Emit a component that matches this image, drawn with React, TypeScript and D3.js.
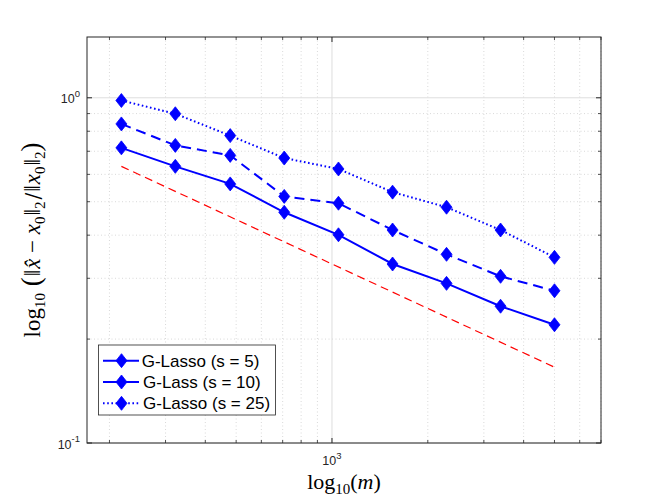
import React from "react";
import * as d3 from "d3";

const mValues = [218, 322, 479, 708, 1048, 1550, 2290, 3385, 5000];
const errS5 = [0.716, 0.633, 0.563, 0.466, 0.401, 0.330, 0.290, 0.249, 0.220];
const errS10 = [0.840, 0.728, 0.681, 0.518, 0.495, 0.414, 0.352, 0.304, 0.276];
const errS25 = [0.982, 0.899, 0.777, 0.669, 0.622, 0.533, 0.482, 0.414, 0.345];
const refM = [218, 5000];
const refErr = [0.633, 0.1658];
const xMajor = [1000];
const xMinor = [200, 300, 400, 500, 600, 700, 800, 900, 2000, 3000, 4000, 5000, 6000, 7000];
const yMajor = [0.1, 1];
const yMinor = [0.2, 0.3, 0.4, 0.5, 0.6, 0.7, 0.8, 0.9];
const legendLabels = ["G-Lasso (s = 5)", "G-Lass (s = 10)", "G-Lasso (s = 25)"];

const W = 664, H = 498;
const L = 87, R = 601, T = 37, B = 443;
const axisColor = "#262626";
const blue = "#0000ff";

const series = [
  { values: errS5, dash: "none" },
  { values: errS10, dash: "10 6" },
  { values: errS25, dash: "1.6 2.6" },
];

function Diamond({ x, y }: { x: number; y: number }) {
  const w = 5.5, h = 7;
  return (
    <path
      d={`M${x},${y - h}L${x + w},${y}L${x},${y + h}L${x - w},${y}Z`}
      fill={blue}
      stroke={blue}
      strokeWidth={0.8}
    />
  );
}

export default function App() {
  const x = d3.scaleLog().domain([170, 7000]).range([L, R]);
  const y = d3.scaleLog().domain([0.1, 1.5]).range([B, T]);
  const line = d3
    .line<[number, number]>()
    .x((d) => x(d[0]))
    .y((d) => y(d[1]));

  const serif = "'Liberation Serif', 'DejaVu Serif', serif";
  const sans = "'Liberation Sans', Arial, sans-serif";

  return (
    <svg
      width={W}
      height={H}
      style={{ position: "absolute", left: 0, top: 0, background: "#fff" }}
    >
      <rect x={0} y={0} width={W} height={H} fill="#fff" />
      {/* minor grid */}
      {xMinor.map((v) => (
        <line key={"gx" + v} x1={x(v)} x2={x(v)} y1={T} y2={B} stroke="#c9c9c9" strokeWidth={0.7} strokeDasharray="1 2.5" />
      ))}
      {yMinor.map((v) => (
        <line key={"gy" + v} x1={L} x2={R} y1={y(v)} y2={y(v)} stroke="#c9c9c9" strokeWidth={0.7} strokeDasharray="1 2.5" />
      ))}
      {/* major grid */}
      {xMajor.map((v) => (
        <line key={"Gx" + v} x1={x(v)} x2={x(v)} y1={T} y2={B} stroke="#dedede" strokeWidth={1} />
      ))}
      {yMajor.map((v) => (
        <line key={"Gy" + v} x1={L} x2={R} y1={y(v)} y2={y(v)} stroke="#dedede" strokeWidth={1} />
      ))}

      {/* reference line */}
      <path
        d={line(refM.map((m, i) => [m, refErr[i]]) as [number, number][]) || ""}
        fill="none"
        stroke="#ff0000"
        strokeWidth={1.2}
        strokeDasharray="8 5"
      />

      {/* series */}
      {series.map((s, si) => (
        <g key={"s" + si}>
          <path
            d={line(mValues.map((m, i) => [m, s.values[i]]) as [number, number][]) || ""}
            fill="none"
            stroke={blue}
            strokeWidth={2}
            strokeDasharray={s.dash}
          />
          {mValues.map((m, i) => (
            <Diamond key={i} x={x(m)} y={y(s.values[i])} />
          ))}
        </g>
      ))}

      {/* axes box */}
      <rect x={L} y={T} width={R - L} height={B - T} fill="none" stroke={axisColor} strokeWidth={1} />
      {/* ticks */}
      {xMajor.map((v) => (
        <g key={"tx" + v}>
          <line x1={x(v)} x2={x(v)} y1={B} y2={B - 5} stroke={axisColor} />
          <line x1={x(v)} x2={x(v)} y1={T} y2={T + 5} stroke={axisColor} />
        </g>
      ))}
      {xMinor.map((v) => (
        <g key={"tmx" + v}>
          <line x1={x(v)} x2={x(v)} y1={B} y2={B - 3} stroke={axisColor} strokeWidth={0.8} />
          <line x1={x(v)} x2={x(v)} y1={T} y2={T + 3} stroke={axisColor} strokeWidth={0.8} />
        </g>
      ))}
      {yMajor.map((v) => (
        <g key={"ty" + v}>
          <line x1={L} x2={L + 5} y1={y(v)} y2={y(v)} stroke={axisColor} />
          <line x1={R} x2={R - 5} y1={y(v)} y2={y(v)} stroke={axisColor} />
        </g>
      ))}
      {yMinor.map((v) => (
        <g key={"tmy" + v}>
          <line x1={L} x2={L + 3} y1={y(v)} y2={y(v)} stroke={axisColor} strokeWidth={0.8} />
          <line x1={R} x2={R - 3} y1={y(v)} y2={y(v)} stroke={axisColor} strokeWidth={0.8} />
        </g>
      ))}

      {/* tick labels */}
      {xMajor.map((v) => (
        <text key={"lx" + v} x={x(v)} y={465} fontFamily={sans} fontSize={12.5} fill={axisColor} textAnchor="middle">
          10<tspan dy={-6.5} fontSize={9.5}>{Math.round(Math.log10(v))}</tspan>
        </text>
      ))}
      {yMajor.map((v) => (
        <text key={"ly" + v} x={80} y={y(v) + 5.7} fontFamily={sans} fontSize={12.5} fill={axisColor} textAnchor="end">
          10<tspan dy={-6.5} fontSize={9.5}>{Math.round(Math.log10(v))}</tspan>
        </text>
      ))}

      {/* x label */}
      <text x={344} y={489} fontFamily={serif} fontSize={22} fill="#000" textAnchor="middle">
        log<tspan dy={5} fontSize={15}>10</tspan>
        <tspan dy={-5}>(</tspan>
        <tspan fontStyle="italic">m</tspan>)
      </text>

      {/* y label */}
      <g transform="translate(40,240) rotate(-90)">
        <text x={0} y={0} fontFamily={serif} fontSize={23} fill="#000" textAnchor="middle">
          log<tspan dy={5} fontSize={15}>10</tspan>
          <tspan dy={-5} fontSize={27}>{" ("}</tspan>
          <tspan dx={1}>‖</tspan>
          <tspan dx={1} fontStyle="italic">x̂</tspan>
          <tspan>{" − "}</tspan>
          <tspan fontStyle="italic">x</tspan>
          <tspan dy={5} fontSize={15}>0</tspan>
          <tspan dy={-5} dx={1}>‖</tspan>
          <tspan dy={5} fontSize={15}>2</tspan>
          <tspan dy={-5} dx={2} fontFamily="'DejaVu Serif', serif" fontSize={20}>/</tspan>
          <tspan dx={1}>‖</tspan>
          <tspan dx={1} fontStyle="italic">x</tspan>
          <tspan dy={5} fontSize={15}>0</tspan>
          <tspan dy={-5} dx={1}>‖</tspan>
          <tspan dy={5} fontSize={15}>2</tspan>
          <tspan dy={-5} fontSize={27}>)</tspan>
        </text>
      </g>

      {/* legend */}
      <g>
        <rect x={98.5} y={345} width={177} height={70} fill="#fff" stroke={axisColor} strokeWidth={0.8} />
        {legendLabels.map((lab, i) => {
          const ly = 360.7 + i * 21.3;
          const dash = i === 0 ? "none" : i === 1 ? "14 8" : "1.6 2.6";
          return (
            <g key={"lg" + i}>
              <line x1={103} x2={139} y1={ly} y2={ly} stroke={blue} strokeWidth={2} strokeDasharray={dash} />
              <Diamond x={121.5} y={ly} />
              <text x={i === 0 ? 141.7 : 143} y={ly + 6} fontFamily={sans} fontSize={17} fill="#000">
                {lab}
              </text>
            </g>
          );
        })}
      </g>
    </svg>
  );
}
